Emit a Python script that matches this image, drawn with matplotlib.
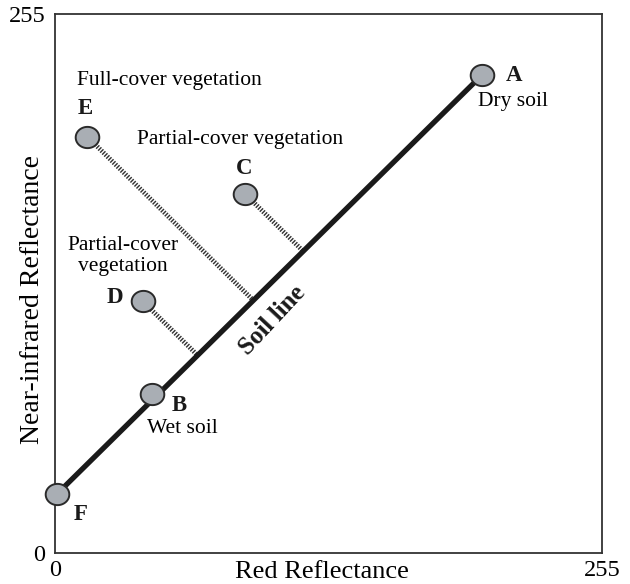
import numpy as np
import matplotlib.pyplot as plt
from matplotlib.path import Path

plt.rcParams['font.family'] = ['Liberation Serif', 'DejaVu Serif']

# soil line end points (red, nir)
soil_x = [1, 199]
soil_y = [28, 226]

# labelled points
names = ['A', 'B', 'C', 'D', 'E', 'F']
red = [199, 45, 88.5, 41, 15, 1]
nir = [226, 75, 170, 119, 197, 28]

# vegetation points that get a perpendicular drop to the soil line
veg = ['C', 'D', 'E']

fig = plt.figure(figsize=(6.3, 5.84), dpi=100)
ax = fig.add_axes([0.0873, 0.0531, 0.868, 0.923])
ax.set_xlim(0, 255)
ax.set_ylim(0, 255)

ax.plot(soil_x, soil_y, color='#1a1a1a', lw=3.8, solid_capstyle='butt', zorder=2)

# perpendicular from each vegetation point to the soil line
p0 = np.array([soil_x[0], soil_y[0]], float)
d = np.array([soil_x[1] - soil_x[0], soil_y[1] - soil_y[0]], float)
d /= np.linalg.norm(d)
for n in veg:
    i = names.index(n)
    p = np.array([red[i], nir[i]])
    foot = p0 + np.dot(p - p0, d) * d
    ax.plot([p[0], foot[0]], [p[1], foot[1]], color='#333333', lw=3.4,
            linestyle=(0, (0.3, 0.3)), zorder=1)

# slightly flattened circle marker
t = np.linspace(0, 2 * np.pi, 80)
oval = Path(np.column_stack([np.cos(t), 0.9 * np.sin(t)]), closed=True)
ax.plot(red, nir, marker=oval, ms=17, mfc='#a9aeb4', mec='#2a2a2a', mew=1.4,
        zorder=3, linestyle='None', clip_on=False)

lbl = dict(fontsize=16.5, fontweight='bold', color='#1a1a1a', ha='center', va='center')
txt = dict(fontsize=15.5, ha='center', va='center')
ax.text(red[0] + 15, nir[0], 'A', **lbl)
ax.text(red[0] + 14.6, nir[0] - 12.5, 'Dry soil', **txt)
ax.text(red[1] + 12.8, nir[1] - 5, 'B', **lbl)
ax.text(red[1] + 14.2, nir[1] - 16, 'Wet soil', **txt)
ax.text(red[2] - 0.4, nir[2] + 12, 'C', **lbl)
ax.text(red[3] - 13, nir[3] + 2, 'D', **lbl)
ax.text(red[4] - 1, nir[4] + 13.5, 'E', **lbl)
ax.text(red[5] + 11, nir[5] - 10, 'F', **lbl)

ax.text(10.3, 223.7, 'Full-cover vegetation', ha='left', va='center', fontsize=15.5)
ax.text(38.2, 195.4, 'Partial-cover vegetation', ha='left', va='center', fontsize=15.5)
ax.text(31.7, 140.3, 'Partial-cover\nvegetation', ha='center', va='center',
        multialignment='center', fontsize=15.5, linespacing=1.15)
ax.text(101.2, 110.2, 'Soil line', rotation=47, ha='center', va='center',
        fontsize=18, fontweight='bold', color='#1a1a1a')

ax.set_xticks([0, 255])
ax.set_yticks([0, 255])
ax.tick_params(length=0, labelsize=17.5)
ax.tick_params(axis='x', pad=5)
ax.tick_params(axis='y', pad=7)
ax.set_xlabel('Red Reflectance', fontsize=19)
ax.set_ylabel('Near-infrared Reflectance', fontsize=20)
ax.xaxis.set_label_coords(0.488, -0.036)
ax.xaxis.label.set_va('center')
ax.yaxis.set_label_coords(-0.042, 0.47)
ax.yaxis.label.set_va('center')
for s in ax.spines.values():
    s.set_color('#333333')
    s.set_linewidth(1.3)

fig.savefig('out.png', dpi=100)
